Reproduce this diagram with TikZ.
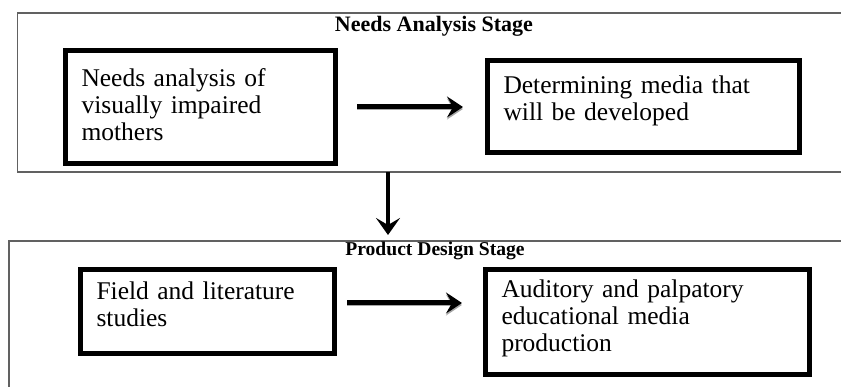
\documentclass[tikz,border=0pt]{standalone}
\usepackage{fontspec}
\setmainfont{Liberation Serif}
\usetikzlibrary{arrows.meta,positioning}

\begin{document}
\begin{tikzpicture}[x=1pt,y=1pt,thick,
    stage box/.style={rectangle,draw=black!62,line width=1.6pt,inner sep=0pt},
    stage title/.style={anchor=base,inner sep=0pt,font=\fontsize{#1}{22}\selectfont\bfseries},
    step box/.style={rectangle,draw,line width=5pt,inner xsep=16pt,align=left,text height=18pt,font=\fontsize{25.5}{27}\selectfont},
    flow/.style={line width=5pt,-{Stealth[length=16pt,width=21pt,inset=6pt]},preaction={draw=black!35,transform canvas={yshift=-2pt}}},
    down/.style={line width=4pt,-{Stealth[length=17pt,width=24pt,inset=7pt]}}]

                    \path[use as bounding box,clip] (0,0) rectangle (841,-387);

                    \node[stage box, minimum width=832.5pt, minimum height=159pt] (s1) at (433.75,-92.5) {};
                    \node[stage box, minimum width=841pt, minimum height=159pt] (s2) at (429.5,-320.5) {};
                    \node[stage title=22] (t1) at (434,-31.7) {Needs Analysis Stage};
                    \node[stage title=19.6] (t2) at (435,-256) {Product Design Stage};

                    \node[step box, minimum width=270pt, minimum height=113pt, text width=238pt, text depth=59pt] (1) at (200.5,-107) {Needs analysis of\\visually impaired\\mothers};
                    \node[step box, minimum width=312pt, minimum height=92pt, text width=280pt, text depth=44pt] (2) [right=147pt of 1] {Determining media that\\will be developed};
                    \node[step box, minimum width=254pt, minimum height=84pt, text width=222pt, text depth=42pt] (3) at (207.5,-311.5) {Field and literature\\studies};
                    \node[step box, minimum width=324pt, minimum height=105pt, text width=292pt, text depth=67pt] (4) at (647.5,-322) {Auditory and palpatory\\educational media\\production};

                    \coordinate (v1) at (388,-172);
                    \coordinate (v2) at (388,-235);

                    \draw[flow, shorten <=19pt, shorten >=22pt] (1) to (2);
                    \draw[flow, shorten <=10pt, shorten >=21pt] ([yshift=8.5pt]3.east) to ([yshift=8.5pt]3.east -| 4.west);
                    \draw[down] (v1) to (v2);

                    ;
                \end{tikzpicture}
\end{document}
